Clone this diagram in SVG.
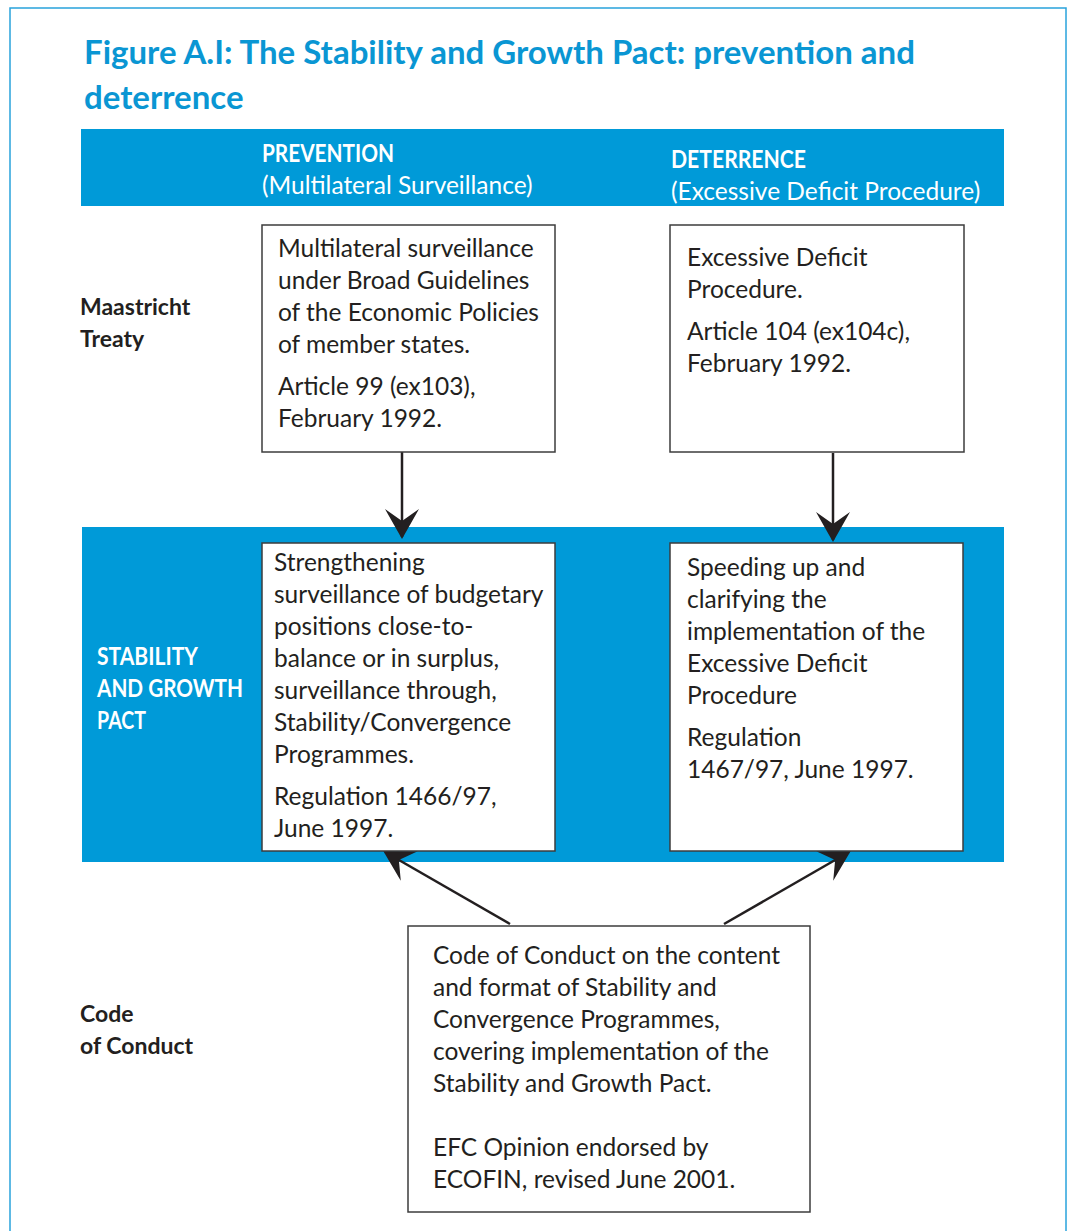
<svg xmlns="http://www.w3.org/2000/svg" width="1068" height="1231" viewBox="0 0 1068 1231">
<defs>
<style>
.t{font-family:Lato,"Open Sans","DejaVu Sans",sans-serif;font-size:24.5px;fill:#231f20}
.b{font-family:Lato,"DejaVu Sans",sans-serif;font-weight:bold;font-size:23px;fill:#231f20}
.w{font-family:Lato,"DejaVu Sans",sans-serif;font-weight:bold;font-size:24px;fill:#ffffff}
.wn{font-family:Lato,"Open Sans",sans-serif;font-size:24.5px;fill:#ffffff}
.title{font-family:Lato,"DejaVu Sans",sans-serif;font-weight:bold;font-size:33px;fill:#0a96d3}
.box{fill:#ffffff;stroke:#3c3c3c;stroke-width:1.5}
.band{fill:#009ad8}
.conn{stroke:#231f20;stroke-width:2.5;fill:none}
</style>
<marker id="ah" viewBox="0 0 30 34" refX="28" refY="17" markerWidth="30" markerHeight="34" markerUnits="userSpaceOnUse" orient="auto">
<path d="M0,0 L30,17 L0,34 L12,17 Z" fill="#231f20"/>
</marker>
</defs>
<rect x="10" y="8" width="1056" height="1240" fill="#ffffff" stroke="#29a3dc" stroke-width="1.5"/>
<g id="title">
<text class="title" x="84" y="64">Figure A.I: The Stability and Growth Pact: prevention and</text>
<text class="title" x="84" y="109">deterrence</text>
</g>
<g id="header">
<rect class="band" x="81" y="129" width="923" height="77"/>
<text class="w" x="262" y="162" textLength="132" lengthAdjust="spacingAndGlyphs">PREVENTION</text>
<text class="wn" x="262" y="194">(Multilateral Surveillance)</text>
<text class="w" x="671" y="168" textLength="135" lengthAdjust="spacingAndGlyphs">DETERRENCE</text>
<text class="wn" x="671" y="200">(Excessive Deficit Procedure)</text>
</g>
<g id="band-sgp">
<rect class="band" x="82" y="527" width="922" height="335"/>
</g>
<g id="label-maastricht">
<text class="b" x="80" y="315">Maastricht</text>
<text class="b" x="80" y="347">Treaty</text>
</g>
<g id="label-sgp">
<text class="w" x="97" y="665" textLength="101" lengthAdjust="spacingAndGlyphs">STABILITY</text>
<text class="w" x="97" y="697" textLength="146" lengthAdjust="spacingAndGlyphs">AND GROWTH</text>
<text class="w" x="97" y="729" textLength="49" lengthAdjust="spacingAndGlyphs">PACT</text>
</g>
<g id="label-code">
<text class="b" x="80" y="1022">Code</text>
<text class="b" x="80" y="1054">of Conduct</text>
</g>
<g id="connectors">
<line class="conn" x1="402" y1="452" x2="402" y2="537" marker-end="url(#ah)"/>
<line class="conn" x1="833" y1="453" x2="833" y2="540" marker-end="url(#ah)"/>
<line class="conn" x1="510" y1="924" x2="385" y2="852" marker-end="url(#ah)"/>
<line class="conn" x1="724" y1="924" x2="849" y2="852" marker-end="url(#ah)"/>
</g>
<g id="node-msurv">
<rect class="box" x="262" y="225" width="293" height="227"/>
<text class="t" x="278" y="257">Multilateral surveillance</text>
<text class="t" x="278" y="289">under Broad Guidelines</text>
<text class="t" x="278" y="321">of the Economic Policies</text>
<text class="t" x="278" y="353">of member states.</text>
<text class="t" x="278" y="395">Article 99 (ex103),</text>
<text class="t" x="278" y="427">February 1992.</text>
</g>
<g id="node-edp">
<rect class="box" x="670" y="225" width="294" height="227"/>
<text class="t" x="687" y="266">Excessive Deficit</text>
<text class="t" x="687" y="298">Procedure.</text>
<text class="t" x="687" y="340">Article 104 (ex104c),</text>
<text class="t" x="687" y="372">February 1992.</text>
</g>
<g id="node-strengthening">
<rect class="box" x="262" y="543" width="293" height="308"/>
<text class="t" x="274" y="571">Strengthening</text>
<text class="t" x="274" y="603">surveillance of budgetary</text>
<text class="t" x="274" y="635">positions close-to-</text>
<text class="t" x="274" y="667">balance or in surplus,</text>
<text class="t" x="274" y="699">surveillance through,</text>
<text class="t" x="274" y="731">Stability/Convergence</text>
<text class="t" x="274" y="763">Programmes.</text>
<text class="t" x="274" y="805">Regulation 1466/97,</text>
<text class="t" x="274" y="837">June 1997.</text>
</g>
<g id="node-speeding">
<rect class="box" x="670" y="543" width="293" height="308"/>
<text class="t" x="687" y="576">Speeding up and</text>
<text class="t" x="687" y="608">clarifying the</text>
<text class="t" x="687" y="640">implementation of the</text>
<text class="t" x="687" y="672">Excessive Deficit</text>
<text class="t" x="687" y="704">Procedure</text>
<text class="t" x="687" y="746">Regulation</text>
<text class="t" x="687" y="778">1467/97, June 1997.</text>
</g>
<g id="node-code">
<rect class="box" x="408" y="926" width="402" height="286"/>
<text class="t" x="433" y="964">Code of Conduct on the content</text>
<text class="t" x="433" y="996">and format of Stability and</text>
<text class="t" x="433" y="1028">Convergence Programmes,</text>
<text class="t" x="433" y="1060">covering implementation of the</text>
<text class="t" x="433" y="1092">Stability and Growth Pact.</text>
<text class="t" x="433" y="1156">EFC Opinion endorsed by</text>
<text class="t" x="433" y="1188">ECOFIN, revised June 2001.</text>
</g>
</svg>
